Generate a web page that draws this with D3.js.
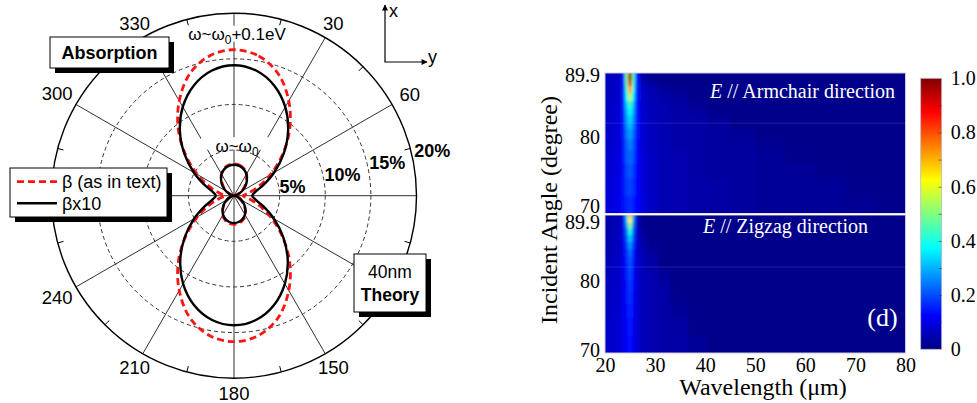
<!DOCTYPE html>
<html><head><meta charset="utf-8">
<script src="https://cdn.jsdelivr.net/npm/d3@7"></script>
<style>
html,body{margin:0;padding:0;background:#fff;}
svg{display:block;}
</style></head><body>
<svg id="chart" width="977" height="403"></svg>
<script>
// ================= POLAR PANEL DATA (percent absorption vs polarisation angle) =================
const angles = [0,10,20,30,40,50,60,70,80,90,100,110,120,130,140,150,160,170,180,190,200,210,220,230,240,250,260,270,280,290,300,310,320,330,340,350];
// omega ~ omega0 + 0.1 eV (big lobes)
const betaHigh   = [16.0,15.55,14.2,12.0,9.5,6.9,4.6,2.8,1.6,1.0, 1.6,2.8,4.6,6.9,9.5,12.0,14.2,15.55,16.0, 15.55,14.2,12.0,9.5,6.9,4.6,2.8,1.6,1.0,1.6,2.8,4.6,6.9,9.5,12.0,14.2,15.55];
const beta10High = [14.3,13.93,12.86,11.23,9.22,7.08,5.08,3.44,2.37,2.0, 2.37,3.43,5.05,7.03,9.16,11.15,12.77,13.83,14.2, 13.83,12.77,11.15,9.16,7.03,5.05,3.43,2.37,2.0,2.37,3.44,5.08,7.08,9.22,11.23,12.86,13.93];
// omega ~ omega0 (small lobes)
const betaLow    = [3.5,3.41,3.17,2.76,2.1,1.5,0.92,0.45,0.13,0, 0.12,0.41,0.83,1.35,1.9,2.48,2.85,3.07,3.15, 3.07,2.85,2.48,1.9,1.35,0.83,0.41,0.12,0,0.13,0.45,0.92,1.5,2.1,2.76,3.17,3.41];
const beta10Low  = [3.4,3.32,3.1,2.72,2.2,1.62,1.03,0.52,0.15,0, 0.13,0.46,0.91,1.43,1.94,2.4,2.73,2.93,3.0, 2.93,2.73,2.4,1.94,1.43,0.91,0.46,0.13,0,0.15,0.52,1.03,1.62,2.2,2.72,3.1,3.32];
const radialTicks = [5,10,15,20];
const radialTickLabels = ["5%","10%","15%","20%"];
const spokeAngles = [0,30,60,90,120,150,180,210,240,270,300,330];
const minorTickAngles = [15,45,75,105,135,165,195,225,255,285,315,345];
const angleLabels = [30,60,150,180,210,240,300,330];
const legendLabels = ["\u03b2 (as in text)", "\u03b2x10"];

// ================= HEATMAP DATA (absorption, wavelength x incident angle) =================
const wavelengthEdges = [20,21.5,23.2,24.0,24.6,25.4,26.0,27.0,28.5,30.5,33,36.5,40.5,45,50,56,62,68,74,80];
const angleEdges = [89.9,89.4,88.8,88.0,87.0,86.0,85.0,84.0,83.0,82.0,80.5,79.0,77.0,75.0,72.5,70.0];
const armchair = [
 [.06,.07,.15,.50,.97,.45,.14,.03,.015,.01,.01,.01,.01,.01,.01,.01,.01,.01,.01],
 [.06,.07,.15,.50,.98,.45,.15,.04,.02,.01,.01,.01,.01,.01,.01,.01,.01,.01,.01],
 [.06,.07,.15,.48,.90,.43,.15,.05,.03,.015,.01,.01,.01,.01,.01,.01,.01,.01,.01],
 [.06,.07,.15,.42,.72,.40,.15,.06,.045,.03,.015,.01,.01,.01,.01,.01,.01,.01,.01],
 [.065,.075,.15,.37,.55,.35,.15,.07,.05,.04,.03,.012,.01,.01,.01,.01,.01,.01,.01],
 [.065,.075,.15,.33,.43,.31,.14,.07,.055,.045,.035,.02,.01,.01,.01,.01,.01,.01,.01],
 [.07,.08,.15,.30,.38,.29,.14,.075,.055,.045,.04,.03,.012,.01,.01,.01,.01,.01,.01],
 [.07,.08,.15,.28,.34,.27,.14,.075,.055,.045,.04,.035,.022,.01,.01,.01,.01,.01,.01],
 [.07,.08,.15,.26,.31,.25,.14,.08,.06,.05,.04,.035,.03,.013,.01,.01,.01,.01,.01],
 [.075,.085,.15,.24,.28,.23,.14,.08,.06,.05,.04,.035,.03,.025,.01,.01,.01,.01,.01],
 [.075,.085,.14,.22,.25,.21,.13,.08,.06,.05,.04,.035,.03,.03,.018,.01,.01,.01,.01],
 [.08,.09,.14,.21,.23,.20,.13,.085,.065,.05,.045,.035,.03,.03,.025,.012,.01,.01,.01],
 [.08,.09,.14,.19,.21,.18,.13,.085,.065,.05,.045,.035,.03,.03,.025,.025,.013,.01,.01],
 [.085,.095,.14,.18,.19,.17,.13,.085,.065,.05,.045,.04,.035,.03,.025,.025,.025,.013,.01],
 [.09,.10,.14,.16,.17,.155,.13,.09,.065,.05,.045,.04,.035,.03,.025,.025,.025,.02,.012]
];
const zigzag = [
 [.04,.05,.09,.32,.68,.28,.05,.01,.01,.01,.01,.01,.01,.01,.01,.01,.01,.01,.01],
 [.04,.05,.09,.30,.62,.26,.06,.01,.01,.01,.01,.01,.01,.01,.01,.01,.01,.01,.01],
 [.045,.055,.095,.27,.52,.24,.065,.012,.01,.01,.01,.01,.01,.01,.01,.01,.01,.01,.01],
 [.045,.055,.095,.23,.40,.21,.07,.02,.01,.01,.01,.01,.01,.01,.01,.01,.01,.01,.01],
 [.05,.06,.10,.20,.32,.19,.075,.035,.01,.01,.01,.01,.01,.01,.01,.01,.01,.01,.01],
 [.05,.06,.10,.18,.27,.17,.08,.04,.015,.01,.01,.01,.01,.01,.01,.01,.01,.01,.01],
 [.05,.06,.10,.16,.23,.15,.08,.045,.025,.01,.01,.01,.01,.01,.01,.01,.01,.01,.01],
 [.055,.065,.10,.155,.21,.145,.08,.05,.035,.01,.01,.01,.01,.01,.01,.01,.01,.01,.01],
 [.055,.065,.10,.15,.20,.14,.08,.05,.04,.012,.01,.01,.01,.01,.01,.01,.01,.01,.01],
 [.06,.07,.10,.145,.19,.135,.08,.055,.045,.025,.01,.01,.01,.01,.01,.01,.01,.01,.01],
 [.06,.07,.10,.14,.18,.13,.08,.055,.045,.035,.01,.01,.01,.01,.01,.01,.01,.01,.01],
 [.065,.075,.10,.135,.17,.125,.08,.055,.045,.04,.015,.01,.01,.01,.01,.01,.01,.01,.01],
 [.065,.075,.10,.13,.16,.12,.08,.055,.045,.04,.025,.01,.01,.01,.01,.01,.01,.01,.01],
 [.07,.08,.10,.125,.15,.115,.08,.055,.045,.04,.035,.012,.01,.01,.01,.01,.01,.01,.01],
 [.07,.08,.10,.12,.14,.11,.08,.055,.045,.04,.035,.025,.01,.01,.01,.01,.01,.01,.01]
];
const xTicks = [20,30,40,50,60,70,80];
const yTicks = [89.9,80,70];
const cbarTicks = [0,0.2,0.4,0.6,0.8,1.0];
const cbarMinorTicks = [0.1,0.2,0.3,0.4,0.5,0.6,0.7,0.8,0.9];
const jetStops = [0,0.125,0.375,0.625,0.875,1];
const jetColors = ["#000080","#0000ff","#00ffff","#ffff00","#ff0000","#800000"];
const artifactAngles = [82.8, 82.4];

// ================= DRAW =================
const svg = d3.select("#chart");
const SANS = "'Liberation Sans', Arial, sans-serif";
const SERIF = "'Liberation Serif', 'Times New Roman', serif";
const defs = svg.append("defs");

// ---------- polar ----------
const cx = 234, cy = 195.7, R = 182.5;
const r = d3.scaleLinear().domain([0, 20]).range([0, R]);
const rad = d => d * Math.PI / 180;
const gp = svg.append("g").attr("transform", `translate(${cx},${cy})`);

gp.selectAll("line.spoke").data(spokeAngles).join("line")
  .attr("class","spoke")
  .attr("x1",0).attr("y1",0)
  .attr("x2", d => r(20) * Math.sin(rad(d)))
  .attr("y2", d => -r(20) * Math.cos(rad(d)))
  .attr("stroke","#1a1a1a").attr("stroke-width",0.9);

// white backgrounds behind in-plot labels
gp.append("rect").attr("x",-48).attr("y",-170).attr("width",104).attr("height",16).attr("fill","#fff");
gp.append("rect").attr("x",-33).attr("y",-58.5).attr("width",67).attr("height",12.5).attr("fill","#fff");

gp.selectAll("circle.ring").data(radialTicks.filter(d => d < 20)).join("circle")
  .attr("r", d => r(d)).attr("fill","none")
  .attr("stroke","#333").attr("stroke-width",1).attr("stroke-dasharray","4,3");
gp.append("circle").attr("r", r(20)).attr("fill","none").attr("stroke","#000").attr("stroke-width",1.4);

gp.selectAll("line.minor").data(minorTickAngles).join("line")
  .attr("x1", d => (r(20)-6) * Math.sin(rad(d))).attr("y1", d => -(r(20)-6) * Math.cos(rad(d)))
  .attr("x2", d => r(20) * Math.sin(rad(d))).attr("y2", d => -r(20) * Math.cos(rad(d)))
  .attr("stroke","#000").attr("stroke-width",1);

const radial = d3.lineRadial()
  .angle(d => rad(d[0])).radius(d => r(d[1]))
  .curve(d3.curveCatmullRomClosed.alpha(0.5));
const pts = arr => angles.map((a,i) => [a, arr[i]]);

[betaHigh, betaLow].forEach(s => gp.append("path").attr("d", radial(pts(s)))
  .attr("fill","none").attr("stroke","#ff1414").attr("stroke-width",2.8).attr("stroke-dasharray","7,4"));
[beta10High, beta10Low].forEach(s => gp.append("path").attr("d", radial(pts(s)))
  .attr("fill","none").attr("stroke","#000").attr("stroke-width",2.4));

// angle labels
const fsA = 18.5;
gp.selectAll("text.ang").data(angleLabels).join("text")
  .attr("font-family",SANS).attr("font-size",fsA).attr("text-anchor","middle")
  .attr("dominant-baseline","central")
  .each(function(d){
    const s = Math.sin(rad(d)), c = Math.cos(rad(d));
    const w = String(d).length * 0.556 * fsA, h = 0.72 * fsA;
    const ext = Math.min(Math.abs(s) > 1e-6 ? w/2/Math.abs(s) : 1e9, Math.abs(c) > 1e-6 ? h/2/Math.abs(c) : 1e9);
    const rr = r(20) + 8.5 + ext;
    d3.select(this).attr("x", rr*s).attr("y", -rr*c);
  })
  .text(d => d);

// radial percent labels
gp.selectAll("text.pct").data(radialTicks).join("text")
  .attr("font-family",SANS).attr("font-weight","bold").attr("font-size",18)
  .attr("x", d => r(d) * 0.985 + 0.5).attr("y", d => 9.4 - 0.265 * r(d))
  .text((d,i) => radialTickLabels[i]);

// in-plot omega labels
function omegaLabel(y, suffix){
  const t = gp.append("text").attr("font-family",SANS).attr("font-size",17)
    .attr("text-anchor","middle").attr("x",3).attr("y",y);
  t.append("tspan").text("\u03c9~\u03c9");
  t.append("tspan").attr("font-size",12).attr("dy",4).text("0");
  if (suffix) t.append("tspan").attr("dy",-4).text(suffix);
}
omegaLabel(-155.7, "+0.1eV");
omegaLabel(-43.7, "");

// boxes with drop shadows
function shadowBox(x, y, w, h){
  svg.append("rect").attr("x",x+5).attr("y",y+5).attr("width",w).attr("height",h).attr("fill","#000");
  svg.append("rect").attr("x",x).attr("y",y).attr("width",w).attr("height",h)
    .attr("fill","#fff").attr("stroke","#000").attr("stroke-width",1);
}
shadowBox(50, 37, 119, 31);
svg.append("text").attr("x",109.5).attr("y",58.5).attr("text-anchor","middle")
  .attr("font-family",SANS).attr("font-weight","bold").attr("font-size",18).text("Absorption");

shadowBox(10, 168, 157, 49);
svg.append("line").attr("x1",17).attr("x2",57).attr("y1",181.7).attr("y2",181.7)
  .attr("stroke","#ff1414").attr("stroke-width",2.8).attr("stroke-dasharray","7,4");
svg.append("line").attr("x1",17).attr("x2",57).attr("y1",203.3).attr("y2",203.3)
  .attr("stroke","#000").attr("stroke-width",2.4);
svg.selectAll("text.leg").data(legendLabels).join("text")
  .attr("x",62).attr("y",(d,i) => 188 + i*22).attr("font-family",SANS).attr("font-size",18).text(d => d);

shadowBox(354, 254, 72, 58);
svg.append("text").attr("x",390).attr("y",278).attr("text-anchor","middle")
  .attr("font-family",SANS).attr("font-size",17.5).text("40nm");
svg.append("text").attr("x",390).attr("y",300.5).attr("text-anchor","middle")
  .attr("font-family",SANS).attr("font-weight","bold").attr("font-size",17.5).text("Theory");

// x / y orientation arrows
defs.append("marker").attr("id","arr").attr("viewBox","0 0 10 10").attr("refX",9).attr("refY",5)
  .attr("markerWidth",7).attr("markerHeight",6).attr("markerUnits","userSpaceOnUse").attr("orient","auto")
  .append("path").attr("d","M0,0 L10,5 L0,10 Z").attr("fill","#000");
svg.append("line").attr("x1",385).attr("y1",62).attr("x2",385).attr("y2",5)
  .attr("stroke","#000").attr("stroke-width",1.2).attr("marker-end","url(#arr)");
svg.append("line").attr("x1",384.4).attr("y1",62).attr("x2",427).attr("y2",62)
  .attr("stroke","#000").attr("stroke-width",1.2).attr("marker-end","url(#arr)");
svg.append("text").attr("x",389).attr("y",17).attr("font-family",SANS).attr("font-size",18).text("x");
svg.append("text").attr("x",428).attr("y",62.5).attr("font-family",SANS).attr("font-size",18).text("y");

// ---------- heatmap ----------
const x = d3.scaleLinear().domain([20, 80]).range([605, 905.5]);
const color = d3.scaleLinear().domain(jetStops).range(jetColors).clamp(true);
defs.append("filter").attr("id","soft").attr("x","-5%").attr("y","-5%").attr("width","110%").attr("height","110%")
  .append("feGaussianBlur").attr("stdDeviation","1.6");

const panels = [
  {data: armchair, y0: 73, y1: 213.5, nudge: [2, -6, -7]},
  {data: zigzag,   y0: 215, y1: 353,  nudge: [7, -2.7, -3]}
];
panels.forEach((p, pi) => {
  const y = d3.scaleLinear().domain([70, 89.9]).range([p.y1, p.y0]);
  const cid = "clip" + pi;
  defs.append("clipPath").attr("id", cid).append("rect")
    .attr("x", x(20)).attr("y", p.y0).attr("width", x(80)-x(20)).attr("height", p.y1-p.y0);
  const outer = svg.append("g").attr("clip-path", `url(#${cid})`);
  outer.append("rect").attr("x", x(20)).attr("y", p.y0).attr("width", x(80)-x(20)).attr("height", p.y1-p.y0)
    .attr("fill", color(0.01));
  const cells = [];
  const nr = angleEdges.length - 1, nc = wavelengthEdges.length - 1;
  p.data.forEach((row, i) => row.forEach((v, j) => cells.push({i, j, v})));
  outer.append("g").attr("filter","url(#soft)")
    .selectAll("rect").data(cells).join("rect")
    .attr("x", d => x(wavelengthEdges[d.j]) - (d.j === 0 ? 6 : 0))
    .attr("width", d => x(wavelengthEdges[d.j+1]) - x(wavelengthEdges[d.j]) + (d.j === 0 ? 6 : 0) + (d.j === nc-1 ? 6 : 0.6))
    .attr("y", d => y(angleEdges[d.i]) - (d.i === 0 ? 6 : 0))
    .attr("height", d => y(angleEdges[d.i+1]) - y(angleEdges[d.i]) + (d.i === 0 ? 6 : 0) + (d.i === nr-1 ? 6 : 0.6))
    .attr("fill", d => color(d.v)).attr("shape-rendering","crispEdges");
  outer.append("line").attr("x1", x(20)).attr("x2", x(80))
    .attr("y1", y(artifactAngles[pi])).attr("y2", y(artifactAngles[pi]))
    .attr("stroke","#ffffff").attr("stroke-opacity",0.13).attr("stroke-width",1);
  svg.append("rect").attr("x", x(20)).attr("y", p.y0).attr("width", x(80)-x(20)).attr("height", p.y1-p.y0)
    .attr("fill","none").attr("stroke","#c9c9dd").attr("stroke-width",1);
  const ay = svg.append("g").attr("transform", `translate(${x(20)},0)`)
    .call(d3.axisLeft(y).tickValues(yTicks).tickSize(0).tickPadding(5).tickFormat(d => d === 89.9 ? "89.9" : String(d)));
  ay.select(".domain").remove();
  ay.selectAll("text").attr("font-family",SERIF).attr("font-size",20).attr("fill","#000")
    .attr("transform", (d,i) => `translate(0,${p.nudge[i]})`);
});
svg.append("line").attr("x1", x(20)).attr("x2", x(80)).attr("y1",214.25).attr("y2",214.25)
  .attr("stroke","#fff").attr("stroke-width",1.6);

const ax = svg.append("g").attr("transform", `translate(0,353)`)
  .call(d3.axisBottom(x).tickValues(xTicks).tickSize(0).tickPadding(5));
ax.select(".domain").remove();
ax.selectAll("text").attr("font-family",SERIF).attr("font-size",20).attr("fill","#000");

// panel annotations
const ann1 = svg.append("text").attr("x",895).attr("y",97.5).attr("text-anchor","end")
  .attr("font-family",SERIF).attr("font-size",20).attr("fill","#fff");
ann1.append("tspan").attr("font-style","italic").text("E");
ann1.append("tspan").text(" // Armchair direction");
const ann2 = svg.append("text").attr("x",703).attr("y",233).attr("text-anchor","start")
  .attr("font-family",SERIF).attr("font-size",20).attr("fill","#fff");
ann2.append("tspan").attr("font-style","italic").text("E");
ann2.append("tspan").text(" // Zigzag direction");
svg.append("text").attr("x",882.5).attr("y",326).attr("text-anchor","middle")
  .attr("font-family",SERIF).attr("font-size",26).attr("fill","#fff").text("(d)");

// axis titles
svg.append("text").attr("x",763).attr("y",395).attr("text-anchor","middle")
  .attr("font-family",SERIF).attr("font-size",24).text("Wavelength (\u03bcm)");
svg.append("text").attr("transform","translate(557,210) rotate(-90)").attr("text-anchor","middle")
  .attr("font-family",SERIF).attr("font-size",24).text("Incident Angle (degree)");

// colorbar
const cb = {x: 920.7, w: 21, top: 78.3, bottom: 349.3};
const cScale = d3.scaleLinear().domain([0, 1]).range([cb.bottom, cb.top]);
const grad = defs.append("linearGradient").attr("id","jet").attr("x1",0).attr("y1",1).attr("x2",0).attr("y2",0);
grad.selectAll("stop").data(jetStops).join("stop")
  .attr("offset", d => d).attr("stop-color", (d,i) => jetColors[i]);
svg.append("rect").attr("x",cb.x).attr("y",cb.top).attr("width",cb.w).attr("height",cb.bottom-cb.top)
  .attr("fill","url(#jet)").attr("stroke","#b8b8c8").attr("stroke-width",0.8);
const cm = svg.append("g").attr("transform", `translate(${cb.x+cb.w},0)`)
  .call(d3.axisLeft(cScale).tickValues(cbarMinorTicks).tickSize(3).tickFormat(""));
cm.select(".domain").remove();
cm.selectAll("line").attr("stroke","#333").attr("stroke-opacity",0.6);
const ca = svg.append("g").attr("transform", `translate(${cb.x+cb.w},0)`)
  .call(d3.axisRight(cScale).tickValues(cbarTicks).tickSize(0).tickPadding(9).tickFormat(d => d === 0 ? "0" : d.toFixed(1)));
ca.select(".domain").remove();
ca.selectAll("text").attr("font-family",SERIF).attr("font-size",20).attr("fill","#000");
</script>
</body></html>
